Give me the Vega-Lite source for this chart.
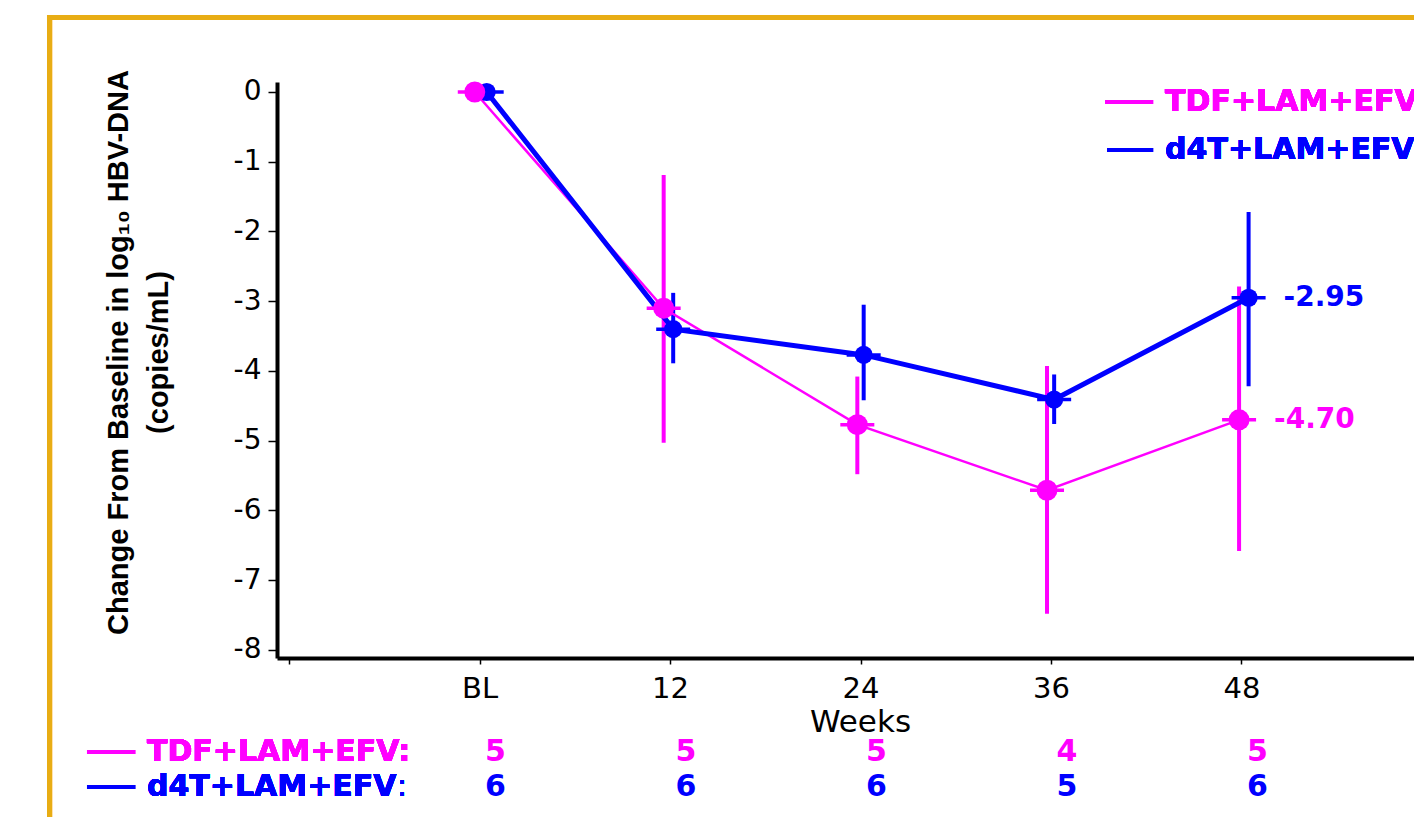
{
  "$schema": "https://vega.github.io/schema/vega-lite/v6.json",
  "width": 1137,
  "height": 576,
  "autosize": {"type": "none"},
  "padding": {"left": 277, "top": 82, "right": 0, "bottom": 159},
  "background": "white",
  "config": {
    "view": {"stroke": null},
    "font": "DejaVu Sans",
    "locale": {"number": {"decimal": ".", "thousands": ",", "grouping": [3], "currency": ["$", ""], "minus": "-"}}
  },
  "datasets": {
    "hbv": [
      {"arm": "TDF+LAM+EFV", "week": -0.3, "change": 0},
      {"arm": "TDF+LAM+EFV", "week": 11.6, "change": -3.10, "lo": -5.03, "hi": -1.19},
      {"arm": "TDF+LAM+EFV", "week": 23.8, "change": -4.77, "lo": -5.48, "hi": -4.08},
      {"arm": "TDF+LAM+EFV", "week": 35.75, "change": -5.71, "lo": -7.48, "hi": -3.93},
      {"arm": "TDF+LAM+EFV", "week": 47.85, "change": -4.70, "lo": -6.58, "hi": -2.79},
      {"arm": "d4T+LAM+EFV", "week": 0.45, "change": 0},
      {"arm": "d4T+LAM+EFV", "week": 12.2, "change": -3.40, "lo": -3.89, "hi": -2.88},
      {"arm": "d4T+LAM+EFV", "week": 24.2, "change": -3.77, "lo": -4.42, "hi": -3.05},
      {"arm": "d4T+LAM+EFV", "week": 36.2, "change": -4.41, "lo": -4.76, "hi": -4.05},
      {"arm": "d4T+LAM+EFV", "week": 48.45, "change": -2.95, "lo": -4.22, "hi": -1.72}
    ],
    "counts": [
      {"arm": "TDF+LAM+EFV", "week": 0, "n": 5},
      {"arm": "TDF+LAM+EFV", "week": 12, "n": 5},
      {"arm": "TDF+LAM+EFV", "week": 24, "n": 5},
      {"arm": "TDF+LAM+EFV", "week": 36, "n": 4},
      {"arm": "TDF+LAM+EFV", "week": 48, "n": 5},
      {"arm": "d4T+LAM+EFV", "week": 0, "n": 6},
      {"arm": "d4T+LAM+EFV", "week": 12, "n": 6},
      {"arm": "d4T+LAM+EFV", "week": 24, "n": 6},
      {"arm": "d4T+LAM+EFV", "week": 36, "n": 5},
      {"arm": "d4T+LAM+EFV", "week": 48, "n": 6}
    ]
  },
  "data": {"name": "hbv"},
  "layer": [
    {
      "mark": {"type": "rule", "strokeWidth": 4},
      "encoding": {
        "x": {
          "field": "week", "type": "quantitative",
          "scale": {"domain": [-12.76, 58.87], "nice": false, "zero": false},
          "axis": {
            "values": [-12, 0, 12, 24, 36, 48],
            "labelExpr": "datum.value == 0 ? 'BL' : (datum.value < 0 ? '' : datum.label)",
            "title": "Weeks",
            "grid": false,
            "domainColor": "#000000", "domainWidth": 4,
            "tickColor": "#000000", "tickWidth": 1.5, "tickSize": 6,
            "labelFont": "DejaVu Sans", "labelFontSize": 29, "labelColor": "#000000", "labelPadding": 10,
            "titleFont": "DejaVu Sans", "titleFontSize": 31, "titleFontWeight": "normal", "titleColor": "#000000", "titlePadding": 4, "titleX": 583
          }
        },
        "y": {
          "field": "lo", "type": "quantitative",
          "scale": {"domain": [-8.115, 0.143], "nice": false, "zero": false},
          "axis": {
            "values": [-8, -7, -6, -5, -4, -3, -2, -1, 0],
            "format": "d",
            "title": ["Change From Baseline in log₁₀ HBV-DNA", "(copies/mL)"],
            "grid": false,
            "domainColor": "#000000", "domainWidth": 4,
            "tickColor": "#000000", "tickWidth": 1.5, "tickSize": 9,
            "labelFont": "DejaVu Sans", "labelFontSize": 28, "labelColor": "#000000", "labelPadding": 7,
            "titleFont": "Liberation Sans", "titleFontSize": 29, "titleFontWeight": "bold", "titleColor": "#000000",
            "titleLineHeight": 40, "titlePadding": 60, "titleY": 270
          }
        },
        "y2": {"field": "hi"},
        "color": {"field": "arm", "type": "nominal", "scale": {"domain": ["TDF+LAM+EFV", "d4T+LAM+EFV"], "range": ["#FF00FF", "#0000FF"]}, "legend": null}
      }
    },
    {
      "mark": {"type": "line"},
      "encoding": {
        "x": {"field": "week", "type": "quantitative"},
        "y": {"field": "change", "type": "quantitative"},
        "color": {"field": "arm", "type": "nominal", "legend": null},
        "strokeWidth": {"field": "arm", "type": "nominal", "scale": {"domain": ["TDF+LAM+EFV", "d4T+LAM+EFV"], "range": [2.5, 5]}, "legend": null}
      }
    },
    {
      "mark": {"type": "tick", "orient": "horizontal", "size": 34, "thickness": 3.5, "opacity": 1},
      "encoding": {
        "x": {"field": "week", "type": "quantitative"},
        "y": {"field": "change", "type": "quantitative"},
        "color": {"field": "arm", "type": "nominal", "legend": null}
      }
    },
    {
      "mark": {"type": "circle", "opacity": 1},
      "encoding": {
        "x": {"field": "week", "type": "quantitative"},
        "y": {"field": "change", "type": "quantitative"},
        "color": {"field": "arm", "type": "nominal", "legend": null},
        "size": {"field": "arm", "type": "nominal", "scale": {"domain": ["TDF+LAM+EFV", "d4T+LAM+EFV"], "range": [440, 330]}, "legend": null},
        "order": {"field": "arm", "sort": "descending"}
      }
    },
    {
      "transform": [{"filter": "datum.week > 40"}],
      "mark": {"type": "text", "align": "left", "baseline": "middle", "dx": 35, "font": "DejaVu Sans", "fontWeight": "bold", "fontSize": 28},
      "encoding": {
        "x": {"field": "week", "type": "quantitative"},
        "y": {"field": "change", "type": "quantitative"},
        "text": {"field": "change", "type": "quantitative", "format": ".2f"},
        "color": {"field": "arm", "type": "nominal", "legend": null}
      }
    },
    {
      "mark": {"type": "rule", "color": "#E8AD14", "strokeWidth": 5},
      "encoding": {
        "x": {"datum": -27.09, "type": "quantitative"},
        "y": {"datum": 1.10, "type": "quantitative"},
        "y2": {"datum": -12}
      }
    },
    {
      "mark": {"type": "rule", "color": "#E8AD14", "strokeWidth": 5},
      "encoding": {
        "x": {"datum": -27.25, "type": "quantitative"},
        "x2": {"datum": 62},
        "y": {"datum": 1.068, "type": "quantitative"}
      }
    },
    {
      "mark": {"type": "rule", "color": "#FF00FF", "strokeWidth": 4},
      "encoding": {
        "x": {"datum": 39.41, "type": "quantitative"},
        "x2": {"datum": 42.43},
        "y": {"datum": -0.143, "type": "quantitative"}
      }
    },
    {
      "mark": {"type": "rule", "color": "#0000FF", "strokeWidth": 4},
      "encoding": {
        "x": {"datum": 39.53, "type": "quantitative"},
        "x2": {"datum": 42.43},
        "y": {"datum": -0.832, "type": "quantitative"}
      }
    },
    {
      "mark": {"type": "text", "align": "left", "baseline": "middle", "font": "DejaVu Sans", "fontWeight": "bold", "fontSize": 30, "color": "#FF00FF", "text": "TDF+LAM+EFV"},
      "encoding": {
        "x": {"datum": 43.19, "type": "quantitative"},
        "y": {"datum": -0.143, "type": "quantitative"}
      }
    },
    {
      "mark": {"type": "text", "align": "left", "baseline": "middle", "font": "DejaVu Sans", "fontWeight": "bold", "fontSize": 30, "color": "#0000FF", "text": "d4T+LAM+EFV"},
      "encoding": {
        "x": {"datum": 43.19, "type": "quantitative"},
        "y": {"datum": -0.832, "type": "quantitative"}
      }
    },
    {
      "mark": {"type": "rule", "color": "#FF00FF", "strokeWidth": 4},
      "encoding": {
        "x": {"datum": -24.73, "type": "quantitative"},
        "x2": {"datum": -21.70},
        "y": {"datum": -9.462, "type": "quantitative"}
      }
    },
    {
      "mark": {"type": "rule", "color": "#0000FF", "strokeWidth": 4},
      "encoding": {
        "x": {"datum": -24.73, "type": "quantitative"},
        "x2": {"datum": -21.70},
        "y": {"datum": -9.964, "type": "quantitative"}
      }
    },
    {
      "mark": {"type": "text", "align": "left", "baseline": "middle", "font": "DejaVu Sans", "fontWeight": "bold", "fontSize": 30, "color": "#FF00FF", "text": "TDF+LAM+EFV:"},
      "encoding": {
        "x": {"datum": -20.95, "type": "quantitative"},
        "y": {"datum": -9.462, "type": "quantitative"}
      }
    },
    {
      "mark": {"type": "text", "align": "left", "baseline": "middle", "font": "DejaVu Sans", "fontWeight": "bold", "fontSize": 30, "color": "#0000FF", "text": "d4T+LAM+EFV"},
      "encoding": {
        "x": {"datum": -20.95, "type": "quantitative"},
        "y": {"datum": -9.964, "type": "quantitative"}
      }
    },
    {
      "mark": {"type": "text", "align": "left", "baseline": "middle", "font": "DejaVu Sans", "fontWeight": "normal", "fontSize": 30, "color": "#0000FF", "text": ":"},
      "encoding": {
        "x": {"datum": -5.2, "type": "quantitative"},
        "y": {"datum": -9.964, "type": "quantitative"}
      }
    },
    {
      "data": {"name": "counts"},
      "transform": [{"filter": "datum.arm == 'TDF+LAM+EFV'"}],
      "mark": {"type": "text", "align": "center", "baseline": "middle", "dx": 16, "font": "DejaVu Sans", "fontWeight": "bold", "fontSize": 30, "color": "#FF00FF"},
      "encoding": {
        "x": {"field": "week", "type": "quantitative"},
        "y": {"datum": -9.462, "type": "quantitative"},
        "text": {"field": "n", "type": "quantitative"}
      }
    },
    {
      "data": {"name": "counts"},
      "transform": [{"filter": "datum.arm == 'd4T+LAM+EFV'"}],
      "mark": {"type": "text", "align": "center", "baseline": "middle", "dx": 16, "font": "DejaVu Sans", "fontWeight": "bold", "fontSize": 30, "color": "#0000FF"},
      "encoding": {
        "x": {"field": "week", "type": "quantitative"},
        "y": {"datum": -9.964, "type": "quantitative"},
        "text": {"field": "n", "type": "quantitative"}
      }
    }
  ]
}
